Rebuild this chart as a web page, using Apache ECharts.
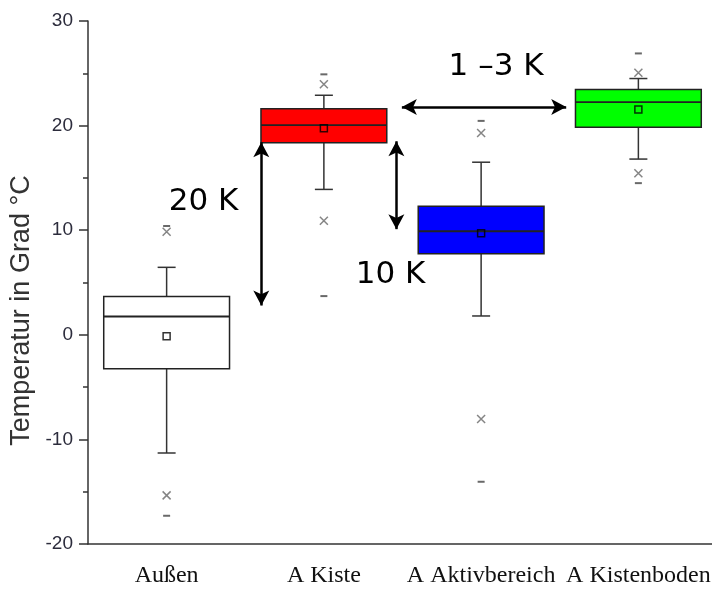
<!DOCTYPE html>
<html>
<head>
<meta charset="utf-8">
<script src="https://cdn.jsdelivr.net/npm/echarts@6/dist/echarts.min.js"></script>
<style>
  html, body { margin: 0; padding: 0; background: #fff; }
  #main { width: 712px; height: 593px; }
</style>
</head>
<body>
<div id="main"></div>
<script>
// Kategorien und Kennwerte
var categories = ['Außen', 'A Kiste', 'A Aktivbereich', 'A Kistenboden'];
var whiskerLow  = [-11.3, 13.9, 1.8, 16.8];
var q1          = [-3.25, 18.35, 7.75, 19.85];
var median      = [1.75, 20.05, 9.9, 22.25];
var q3          = [3.65, 21.6, 12.3, 23.45];
var whiskerHigh = [6.45, 22.9, 16.5, 24.5];
var mean        = [-0.15, 19.75, 9.7, 21.55];
var p1          = [-15.35, 10.9, -8.05, 15.45];
var p99         = [9.85, 23.95, 19.3, 25.05];
var minVal      = [-17.3, 3.7, -14.05, 14.5];
var maxVal      = [10.4, 24.9, 20.45, 26.9];
var yTicks      = [-20, -10, 0, 10, 20, 30];

var boxColors = ['#ffffff', '#ff0000', '#0000ff', '#00ff00'];

var boxData = categories.map(function (c, i) {
    return [i, whiskerLow[i], q1[i], median[i], q3[i], whiskerHigh[i]];
});
function pts(arr) {
    return arr.map(function (v, i) { return [categories[i], v]; });
}

function renderBox(params, api) {
    var i = api.value(0);
    var bw = api.size([1, 0])[0] * 0.8;
    var lo = api.coord([i, api.value(1)]);
    var b1 = api.coord([i, api.value(2)]);
    var md = api.coord([i, api.value(3)]);
    var b3 = api.coord([i, api.value(4)]);
    var hi = api.coord([i, api.value(5)]);
    var x = lo[0];
    var cap = 9;
    var lineStyle = { stroke: '#333', lineWidth: 1.5 };
    return {
        type: 'group',
        children: [
            { type: 'line', shape: { x1: x, y1: hi[1], x2: x, y2: b3[1] }, style: lineStyle },
            { type: 'line', shape: { x1: x, y1: b1[1], x2: x, y2: lo[1] }, style: lineStyle },
            { type: 'line', shape: { x1: x - cap, y1: hi[1], x2: x + cap, y2: hi[1] }, style: lineStyle },
            { type: 'line', shape: { x1: x - cap, y1: lo[1], x2: x + cap, y2: lo[1] }, style: lineStyle },
            { type: 'rect', shape: { x: x - bw / 2, y: b3[1], width: bw, height: b1[1] - b3[1] },
              style: { fill: boxColors[params.dataIndex], stroke: '#222', lineWidth: 1.5 } },
            { type: 'line', shape: { x1: x - bw / 2, y1: md[1], x2: x + bw / 2, y2: md[1] },
              style: { stroke: '#222', lineWidth: 1.8 } }
        ]
    };
}

var arrowStyle = { color: '#000', width: 2.5, type: 'solid' };

var myChart = echarts.init(document.getElementById('main'));
var option = {
    animation: false,
    backgroundColor: '#fff',
    grid: { left: 88, top: 21, width: 629, height: 523, containLabel: false, outerBoundsMode: 'none' },
    xAxis: [{
        type: 'category',
        data: categories,
        axisLine: { onZero: false, lineStyle: { color: '#333', width: 1.5 } },
        axisTick: { alignWithLabel: true, length: 9, lineStyle: { color: '#333', width: 1.5 } },
        axisLabel: { interval: 0, color: '#111', fontFamily: 'Liberation Serif', fontSize: 24, margin: 20 },
        splitLine: { show: false }
    }, {
        type: 'value', min: 0, max: 4, show: false
    }],
    yAxis: {
        type: 'value',
        min: yTicks[0], max: yTicks[yTicks.length - 1], interval: 10,
        name: 'Temperatur in Grad °C',
        nameLocation: 'middle',
        nameGap: 52,
        nameTextStyle: { color: '#333', fontFamily: 'Liberation Sans', fontSize: 27, padding: [0, 56, 0, 0] },
        axisLine: { show: true, lineStyle: { color: '#333', width: 1.5 } },
        axisTick: { show: true, length: 9, lineStyle: { color: '#333', width: 1.5 } },
        minorTick: { show: true, splitNumber: 2, length: 5, lineStyle: { color: '#333', width: 1.5 } },
        axisLabel: { color: '#2c2c3c', fontFamily: 'Liberation Sans', fontSize: 19, margin: 15 },
        splitLine: { show: false }
    },
    series: [{
        type: 'custom',
        renderItem: renderBox,
        encode: { x: 0, y: [1, 2, 3, 4, 5] },
        data: boxData,
        z: 2
    }, {
        type: 'scatter',
        data: pts(mean),
        symbol: 'rect', symbolSize: 7,
        itemStyle: { color: 'transparent', borderColor: '#000', borderWidth: 1.5 },
        z: 5
    }, {
        type: 'scatter',
        data: pts(p1).concat(pts(p99)),
        symbol: 'path://M0,0 L10,10 M10,0 L0,10',
        symbolSize: 8,
        itemStyle: { color: 'transparent', borderColor: '#666', borderWidth: 1.5 },
        z: 5
    }, {
        type: 'scatter',
        data: pts(minVal).concat(pts(maxVal)),
        symbol: 'rect', symbolSize: [7, 2],
        itemStyle: { color: '#444' },
        z: 5
    }, {
        // Pfeile und Beschriftungen
        type: 'line',
        xAxisIndex: 1,
        data: [],
        symbol: 'none',
        markLine: {
            silent: true,
            symbol: ['arrow', 'arrow'],
            symbolSize: [12, 15],
            label: { show: false },
            lineStyle: arrowStyle,
            data: [
                [{ coord: [1.102, 18.4] }, { coord: [1.102, 2.8] }],
                [{ coord: [1.961, 18.5] }, { coord: [1.961, 10.1] }],
                [{ coord: [1.996, 21.78] }, { coord: [3.041, 21.78] }]
            ]
        },
        markPoint: {
            silent: true,
            symbol: 'circle', symbolSize: 0,
            label: { show: true, position: 'inside', color: '#000', fontFamily: 'DejaVu Sans', fontSize: 31 },
            data: [
                { coord: [0.735, 12.7], value: '20 K' },
                { coord: [1.924, 5.7], value: '10 K' },
                { coord: [2.595, 25.6], value: '1 –3 K' }
            ]
        },
        z: 6
    }]
};
myChart.setOption(option);
</script>
</body>
</html>
